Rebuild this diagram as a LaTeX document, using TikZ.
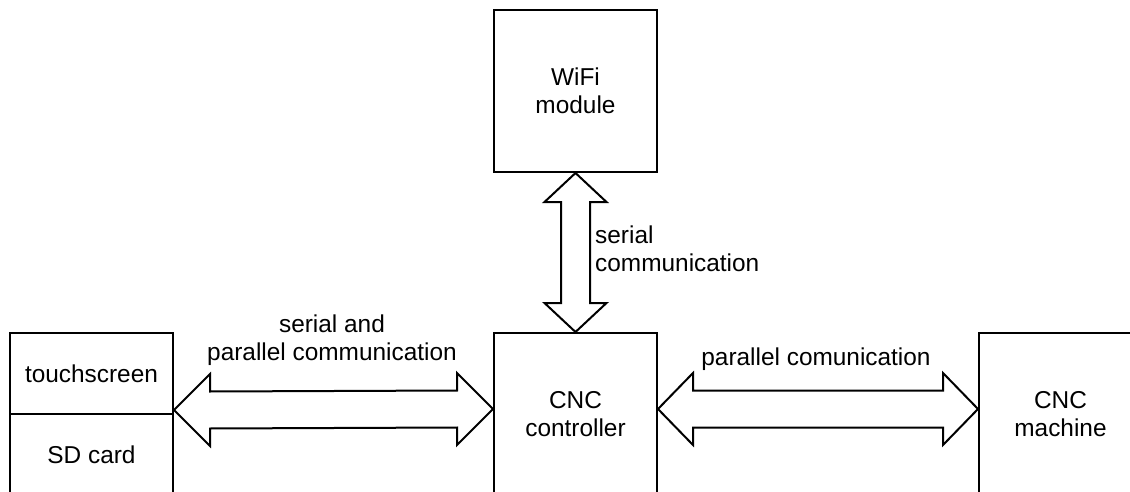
\documentclass[tikz,border=0pt]{standalone}
\usepackage{fontspec}
\setmainfont{Liberation Sans}
\usetikzlibrary{calc}

% Horizontal double-headed block arrow: tip #1, tip #2,
% head length #3, head half-height #4, shaft half-height #5
\newcommand\dblarrowH[5]{%
  \draw[fat] (#1) -- ++(#3,-#4) -- ++(0,#4-#5)
    -- ($(#2)+(-#3,-#5)$) -- ++(0,-#4+#5) -- (#2)
    -- ++(-#3,#4) -- ++(0,-#4+#5)
    -- ($(#1)+(#3,#5)$) -- ++(0,#4-#5) -- cycle;}
% Vertical double-headed block arrow: top tip #1, bottom tip #2,
% head length #3, head half-width #4, shaft half-width #5
\newcommand\dblarrowV[5]{%
  \draw[fat] (#1) -- ++(-#4,#3) -- ++(#4-#5,0)
    -- ($(#2)+(-#5,-#3)$) -- ++(-#4+#5,0) -- (#2)
    -- ++(#4,-#3) -- ++(-#4+#5,0)
    -- ($(#1)+(#5,#3)$) -- ++(#4-#5,0) -- cycle;}

\begin{document}
\begin{tikzpicture}[x=1pt,y=-1pt,
  txt/.style={font=\fontsize{24.4}{27.5}\selectfont},
  block/.style={draw, line width=2pt, minimum width=163pt, inner sep=0pt,
    align=center, txt, anchor=north west},
  lbl/.style={inner sep=0pt, txt},
  fat/.style={draw, line width=2pt, fill=white, line join=miter}]
\useasboundingbox (0,0) rectangle (1130,492);
\clip (0,0) rectangle (1130,492);

% blocks
\node[block, minimum height=162pt] (wifi) at (493,9) {WiFi\\module};
\node[block, minimum height=81pt] (touch) at (9,332) {touchscreen};
\node[block, minimum height=82pt] (sd) at (9,413) {SD card};
\node[block, minimum height=162pt] (ctrl) at (493,332) {CNC\\controller};
\node[block, minimum height=162pt] (mach) at (978,332) {CNC\\machine};

% arrow end points
\coordinate (pL) at ($(touch.south east)+(0,-5)$);
\coordinate (cL) at ($(ctrl.west)+(0,-5)$);
\coordinate (cR) at ($(ctrl.east)+(0,-5)$);
\coordinate (mL) at ($(mach.west)+(0,-5)$);

% connectors
\dblarrowH{pL}{cL}{36}{36}{18.5}
\dblarrowH{cR}{mL}{35}{36}{18.5}
\dblarrowV{wifi.south}{ctrl.north}{29}{31}{14.5}

% connector labels
\node[lbl, align=center] (l1) at (332,340) {serial and\\parallel communication};
\node[lbl] (l2) at (816,359) {parallel comunication};
\node[lbl, align=left, anchor=west] (l3) at (595,249) {serial\\communication};
\end{tikzpicture}
\end{document}
